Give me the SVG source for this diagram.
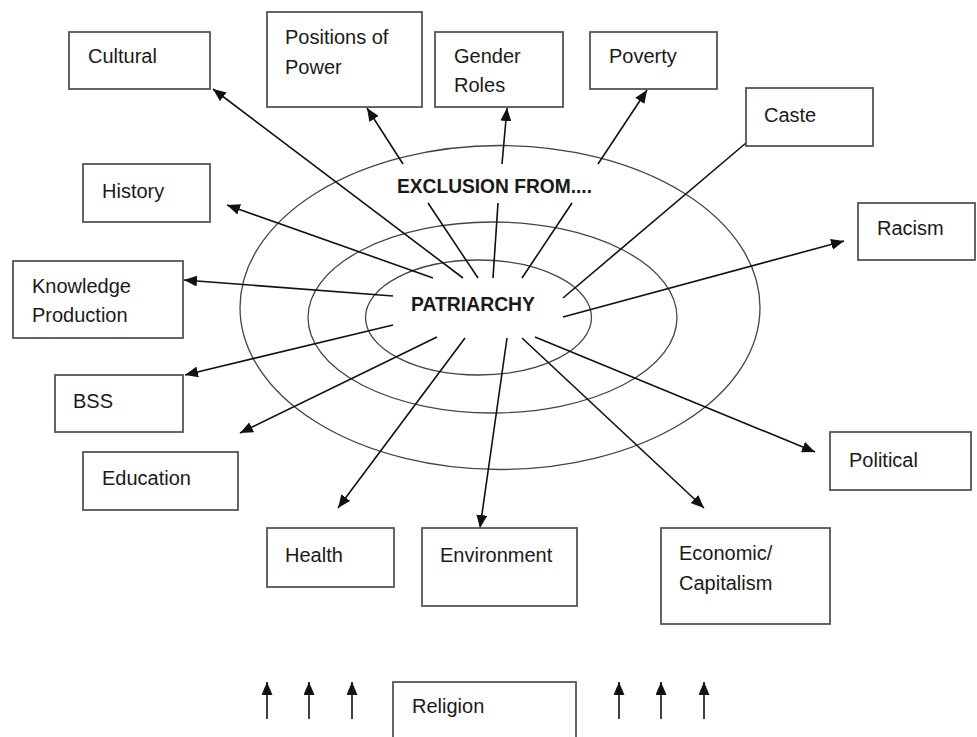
<svg xmlns="http://www.w3.org/2000/svg" width="977" height="737" viewBox="0 0 977 737">
<style>
.box{fill:#fff;stroke:#555;stroke-width:1.8}
.lbl{font-family:"Liberation Sans",Arial,sans-serif;font-size:20px;fill:#1a1a1a}
.bold{font-family:"Liberation Sans",Arial,sans-serif;font-size:20px;font-weight:bold;fill:#1a1a1a}
.ring{fill:none;stroke:#444;stroke-width:1.3}
.ln{stroke:#111;stroke-width:1.6;fill:none}
.arr{stroke:#111;stroke-width:1.6;fill:none;marker-end:url(#ah)}
</style>
<defs>
<marker id="ah" markerWidth="13" markerHeight="11" refX="13" refY="5.5" orient="auto" markerUnits="userSpaceOnUse">
<path d="M0,0 L13,5.5 L0,11 z" fill="#111"/>
</marker>
</defs>
<rect width="977" height="737" fill="#fff"/>
<g id="rings">
<ellipse class="ring" cx="500" cy="307.5" rx="260" ry="162"/>
<ellipse class="ring" cx="492.5" cy="317.5" rx="184.5" ry="95.5"/>
<ellipse class="ring" cx="478.5" cy="317.5" rx="113" ry="57.5"/>
</g>
<g id="connectors">
<line class="arr" x1="463" y1="278" x2="213" y2="89"/>
<line class="arr" x1="403" y1="164" x2="367" y2="108"/>
<line class="arr" x1="502" y1="164" x2="507" y2="108"/>
<line class="arr" x1="598" y1="164" x2="647" y2="90"/>
<line class="ln" x1="428" y1="203" x2="478" y2="278"/>
<line class="ln" x1="498" y1="203" x2="493" y2="278"/>
<line class="ln" x1="572" y1="203" x2="522" y2="278"/>
<line class="ln" x1="563" y1="298" x2="746" y2="143"/>
<line class="arr" x1="433" y1="278" x2="227" y2="205"/>
<line class="arr" x1="393" y1="296" x2="184" y2="280"/>
<line class="arr" x1="393" y1="325" x2="185" y2="375"/>
<line class="arr" x1="437" y1="337" x2="240" y2="433"/>
<line class="arr" x1="465" y1="338" x2="338" y2="508"/>
<line class="arr" x1="507" y1="338" x2="480" y2="528"/>
<line class="arr" x1="522" y1="338" x2="704" y2="508"/>
<line class="arr" x1="535" y1="337" x2="815" y2="452"/>
<line class="arr" x1="563" y1="317" x2="844" y2="241"/>
<line class="arr" x1="267" y1="719" x2="267" y2="682"/>
<line class="arr" x1="309" y1="719" x2="309" y2="682"/>
<line class="arr" x1="352" y1="719" x2="352" y2="682"/>
<line class="arr" x1="619" y1="719" x2="619" y2="682"/>
<line class="arr" x1="661" y1="719" x2="661" y2="682"/>
<line class="arr" x1="704" y1="719" x2="704" y2="682"/>
</g>
<g id="exclusion"><text class="bold" x="397" y="193" textLength="195" lengthAdjust="spacingAndGlyphs">EXCLUSION FROM....</text></g>
<g id="patriarchy"><text class="bold" x="411" y="311" textLength="124" lengthAdjust="spacingAndGlyphs">PATRIARCHY</text></g>
<g id="cultural"><rect class="box" x="69" y="32" width="141" height="57"/><text class="lbl" x="88" y="63">Cultural</text></g>
<g id="positions"><rect class="box" x="267" y="12" width="155" height="95"/><text class="lbl" x="285" y="44">Positions of</text><text class="lbl" x="285" y="74">Power</text></g>
<g id="gender"><rect class="box" x="435" y="32" width="128" height="75"/><text class="lbl" x="454" y="63">Gender</text><text class="lbl" x="454" y="92">Roles</text></g>
<g id="poverty"><rect class="box" x="590" y="32" width="127" height="57"/><text class="lbl" x="609" y="63">Poverty</text></g>
<g id="caste"><rect class="box" x="746" y="88" width="127" height="58"/><text class="lbl" x="764" y="122">Caste</text></g>
<g id="history"><rect class="box" x="83" y="164" width="127" height="58"/><text class="lbl" x="102" y="198">History</text></g>
<g id="racism"><rect class="box" x="858" y="203" width="117" height="57"/><text class="lbl" x="877" y="235">Racism</text></g>
<g id="knowledge"><rect class="box" x="13" y="261" width="170" height="77"/><text class="lbl" x="32" y="293">Knowledge</text><text class="lbl" x="32" y="322">Production</text></g>
<g id="bss"><rect class="box" x="55" y="375" width="128" height="57"/><text class="lbl" x="73" y="408">BSS</text></g>
<g id="education"><rect class="box" x="83" y="452" width="155" height="58"/><text class="lbl" x="102" y="485">Education</text></g>
<g id="political"><rect class="box" x="830" y="432" width="141" height="58"/><text class="lbl" x="849" y="467">Political</text></g>
<g id="health"><rect class="box" x="267" y="528" width="127" height="59"/><text class="lbl" x="285" y="562">Health</text></g>
<g id="environment"><rect class="box" x="422" y="528" width="155" height="78"/><text class="lbl" x="440" y="562">Environment</text></g>
<g id="economic"><rect class="box" x="661" y="528" width="169" height="96"/><text class="lbl" x="679" y="560">Economic/</text><text class="lbl" x="679" y="590">Capitalism</text></g>
<g id="religion"><rect class="box" x="393" y="682" width="183" height="70"/><text class="lbl" x="412" y="713">Religion</text></g>
</svg>
